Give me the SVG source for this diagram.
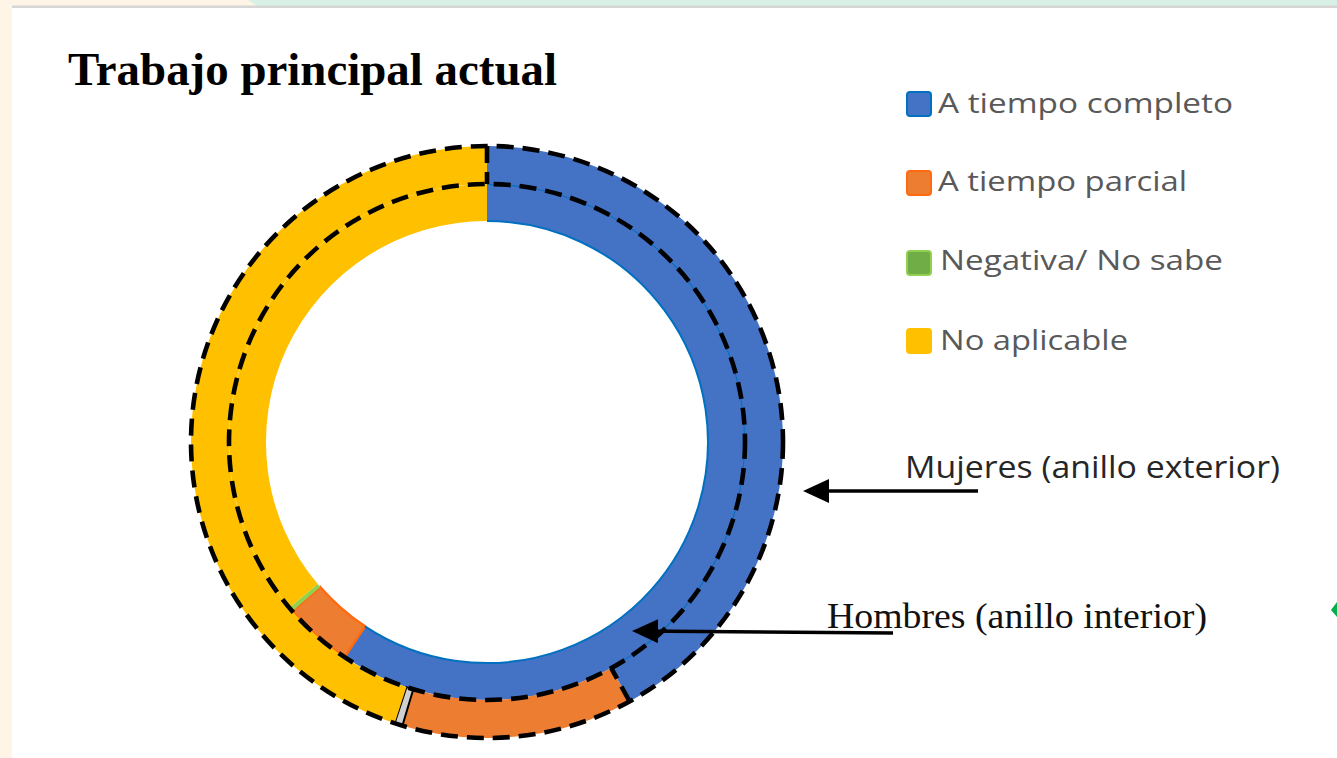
<svg xmlns="http://www.w3.org/2000/svg" width="1337" height="758" viewBox="0 0 1337 758">
<style>
.title{font-family:"Liberation Serif","Times New Roman",serif;font-weight:bold;font-size:46px;fill:#000}
.leg{font-family:"Open Sans","Noto Sans",sans-serif;font-size:27px;fill:#595959}
.lab-s{font-family:"Open Sans","Noto Sans",sans-serif;font-size:31px;fill:#262626}
.lab-t{font-family:"Liberation Serif","Times New Roman",serif;font-size:35px;fill:#111}
.blue{fill:#4472c4}
.orange{fill:#ed7d31}
.green{fill:#92d050}
.yellow{fill:#ffc000}
.dash{fill:none;stroke:#000;stroke-width:4.6;stroke-dasharray:17 9}
.edge{fill:none;stroke:#0070c0;stroke-width:2}
.arrow{fill:none;stroke:#000;stroke-width:3.5}
</style>
<defs>
<marker id="ah" viewBox="0 0 26 24" refX="20" refY="12" markerWidth="26" markerHeight="24" markerUnits="userSpaceOnUse" orient="auto">
<path d="M0,0 L26,12 L0,24 Z" fill="#000"/>
</marker>
</defs>
<g id="background">
<rect x="0" y="0" width="1337" height="758" fill="#fef5e6"/>
<polygon points="248,0 1337,0 1337,6 257,6" fill="#d8f0e5"/>
<rect x="12" y="6" width="1325" height="752" fill="#ffffff"/>
<rect x="12" y="5.5" width="1325" height="2.5" fill="#d6d6d6"/>
<polygon points="1331,610 1337,602 1337,617" fill="#00b050"/>
</g>
<g id="title">
<text class="title" x="68" y="85" textLength="489" lengthAdjust="spacingAndGlyphs">Trabajo principal actual</text>
</g>
<g id="inner-ring-hombres">
<path class="blue" d="M487,184 A258,258 0 1 1 344.6,657.1 L365,626.3 A221,221 0 1 0 487,221 Z"/>
<path class="orange" d="M344.6,657.1 A258,258 0 0 1 292.3,611.3 L320.2,587 A221,221 0 0 0 365,626.3 Z" stroke="#ff6a10" stroke-width="2.5"/>
<path class="green" d="M292.3,611.3 A258,258 0 0 1 289.4,607.8 L317.7,584.1 A221,221 0 0 0 320.2,587 Z"/>
<path class="yellow" d="M289.4,607.8 A258,258 0 0 1 487,184 L487,221 A221,221 0 0 0 317.7,584.1 Z"/>
<path class="edge" d="M487,221 A221,221 0 1 1 365,626.3"/>
<path class="edge" d="M487,184 A258,258 0 0 1 611.3,668.1"/>
</g>
<g id="outer-ring-mujeres">
<path class="blue" d="M487,146 A296,296 0 0 1 629.6,701.4 L611.3,668.1 A258,258 0 0 0 487,184 Z"/>
<path class="orange" d="M629.6,701.4 A296,296 0 0 1 402.4,725.7 L413.3,689.2 A258,258 0 0 0 611.3,668.1 Z"/>
<path d="M402.4,725.7 A296,296 0 0 1 394.6,723.2 L406.4,687.1 A258,258 0 0 0 413.3,689.2 Z" fill="#d0d0d0" stroke="#000" stroke-width="2"/>
<path class="yellow" d="M394.6,723.2 A296,296 0 0 1 487,146 L487,184 A258,258 0 0 0 406.4,687.1 Z"/>
<circle class="dash" cx="487" cy="442" r="296"/>
<circle class="dash" cx="487" cy="442" r="258"/>
<path class="dash" d="M487,146 L487,184"/>
<path class="dash" d="M629.6,701.4 L611.3,668.1"/>
</g>
<g id="legend">
<g id="legend-completo">
<rect x="907" y="92" width="24" height="24" rx="3" fill="#4472c4" stroke="#0070c0" stroke-width="2"/>
<text class="leg" x="938" y="113" textLength="295" lengthAdjust="spacingAndGlyphs">A tiempo completo</text>
</g>
<g id="legend-parcial">
<rect x="907" y="171" width="24" height="24" rx="3" fill="#ed7d31" stroke="#ff6a10" stroke-width="2"/>
<text class="leg" x="938" y="191" textLength="249" lengthAdjust="spacingAndGlyphs">A tiempo parcial</text>
</g>
<g id="legend-negativa">
<rect x="907" y="251" width="24" height="24" rx="3" fill="#70ad47" stroke="#92d050" stroke-width="2"/>
<text class="leg" x="940" y="270" textLength="283" lengthAdjust="spacingAndGlyphs">Negativa/ No sabe</text>
</g>
<g id="legend-noaplicable">
<rect x="907" y="329" width="24" height="24" rx="3" fill="#ffc000" stroke="#ffc000" stroke-width="2"/>
<text class="leg" x="940" y="350" textLength="188" lengthAdjust="spacingAndGlyphs">No aplicable</text>
</g>
</g>
<g id="label-mujeres">
<text class="lab-s" x="905" y="478" textLength="375" lengthAdjust="spacingAndGlyphs">Mujeres (anillo exterior)</text>
</g>
<g id="label-hombres">
<text class="lab-t" x="827" y="628" textLength="380" lengthAdjust="spacingAndGlyphs">Hombres (anillo interior)</text>
</g>
<g id="connectors">
<line class="arrow" x1="978" y1="491" x2="809" y2="491" marker-end="url(#ah)"/>
<line class="arrow" x1="893" y1="633" x2="638" y2="631" marker-end="url(#ah)"/>
</g>
</svg>
